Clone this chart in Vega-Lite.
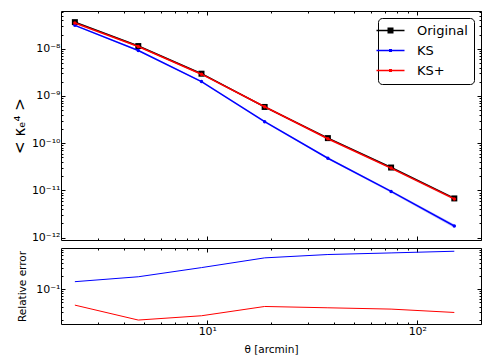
{
  "$schema": "https://vega.github.io/schema/vega-lite/v6.json",
  "background": "white",
  "padding": {"left": 11, "top": 10, "right": 5, "bottom": 5},
  "spacing": 3,
  "config": {
    "font": "DejaVu Sans",
    "view": {"stroke": "#000", "strokeWidth": 1},
    "axis": {"domain": false, "grid": false, "tickColor": "#000", "labelColor": "#000", "titleColor": "#000", "labelFont": "DejaVu Sans", "titleFont": "DejaVu Sans", "titleFontWeight": "normal", "labelFontSize": 11}
  },
  "datasets": {
    "main": [
      {"series": "Original", "theta": 2.34, "value": 3.66e-8, "lo": 3.52e-8, "hi": 3.80e-8},
      {"series": "Original", "theta": 4.69, "value": 1.14e-8, "lo": 1.10e-8, "hi": 1.18e-8},
      {"series": "Original", "theta": 9.38, "value": 2.96e-9, "lo": 2.85e-9, "hi": 3.07e-9},
      {"series": "Original", "theta": 18.75, "value": 5.85e-10, "lo": 5.60e-10, "hi": 6.10e-10},
      {"series": "Original", "theta": 37.5, "value": 1.28e-10, "lo": 1.22e-10, "hi": 1.34e-10},
      {"series": "Original", "theta": 75, "value": 3.05e-11, "lo": 2.89e-11, "hi": 3.21e-11},
      {"series": "Original", "theta": 150, "value": 6.76e-12, "lo": 6.35e-12, "hi": 7.17e-12},
      {"series": "KS", "theta": 2.34, "value": 3.13e-8, "lo": 3.04e-8, "hi": 3.22e-8},
      {"series": "KS", "theta": 4.69, "value": 9.2e-9, "lo": 8.9e-9, "hi": 9.5e-9},
      {"series": "KS", "theta": 9.38, "value": 2.02e-9, "lo": 1.94e-9, "hi": 2.10e-9},
      {"series": "KS", "theta": 18.75, "value": 2.85e-10, "lo": 2.72e-10, "hi": 2.98e-10},
      {"series": "KS", "theta": 37.5, "value": 4.8e-11, "lo": 4.55e-11, "hi": 5.05e-11},
      {"series": "KS", "theta": 75, "value": 9.5e-12, "lo": 8.9e-12, "hi": 1.01e-11},
      {"series": "KS", "theta": 150, "value": 1.76e-12, "lo": 1.6e-12, "hi": 1.93e-12},
      {"series": "KS+", "theta": 2.34, "value": 3.50e-8, "lo": 3.38e-8, "hi": 3.62e-8},
      {"series": "KS+", "theta": 4.69, "value": 1.118e-8, "lo": 1.08e-8, "hi": 1.16e-8},
      {"series": "KS+", "theta": 9.38, "value": 2.89e-9, "lo": 2.78e-9, "hi": 3.00e-9},
      {"series": "KS+", "theta": 18.75, "value": 5.9e-10, "lo": 5.62e-10, "hi": 6.18e-10},
      {"series": "KS+", "theta": 37.5, "value": 1.24e-10, "lo": 1.18e-10, "hi": 1.30e-10},
      {"series": "KS+", "theta": 75, "value": 2.97e-11, "lo": 2.81e-11, "hi": 3.13e-11},
      {"series": "KS+", "theta": 150, "value": 6.6e-12, "lo": 6.2e-12, "hi": 7.0e-12}
    ],
    "err": [
      {"series": "KS", "theta": 2.34, "err": 0.149},
      {"series": "KS", "theta": 4.69, "err": 0.193},
      {"series": "KS", "theta": 9.38, "err": 0.313},
      {"series": "KS", "theta": 18.75, "err": 0.523},
      {"series": "KS", "theta": 37.5, "err": 0.624},
      {"series": "KS", "theta": 75, "err": 0.679},
      {"series": "KS", "theta": 150, "err": 0.742},
      {"series": "KS+", "theta": 2.34, "err": 0.0433},
      {"series": "KS+", "theta": 4.69, "err": 0.0197},
      {"series": "KS+", "theta": 9.38, "err": 0.0247},
      {"series": "KS+", "theta": 18.75, "err": 0.0403},
      {"series": "KS+", "theta": 37.5, "err": 0.0376},
      {"series": "KS+", "theta": 75, "err": 0.0351},
      {"series": "KS+", "theta": 150, "err": 0.0294}
    ]
  },
  "vconcat": [
    {
      "width": 420,
      "height": 229,
      "data": {"name": "main"},
      "layer": [
        {
          "mark": {"type": "area", "opacity": 0.2},
          "encoding": {
            "x": {"field": "theta", "type": "quantitative", "scale": {"type": "log", "domain": [2.01, 201], "nice": false},
              "axis": {"orient": "bottom", "values": [2,3,4,5,6,7,8,9,10,20,30,40,50,60,70,80,90,100,200], "labels": false, "title": null,
                "tickSize": {"condition": {"test": "abs(log(datum.value)/LN10 - round(log(datum.value)/LN10)) < 1e-6", "value": -4}, "value": -2}}},
            "y": {"field": "lo", "type": "quantitative", "scale": {"type": "log", "domain": [8.9e-13, 6.3e-8], "nice": false},
              "axis": {"orient": "left", "values": [1e-12,2e-12,3e-12,4e-12,5e-12,6e-12,7e-12,8e-12,9e-12,1e-11,2e-11,3e-11,4e-11,5e-11,6e-11,7e-11,8e-11,9e-11,1e-10,2e-10,3e-10,4e-10,5e-10,6e-10,7e-10,8e-10,9e-10,1e-9,2e-9,3e-9,4e-9,5e-9,6e-9,7e-9,8e-9,9e-9,1e-8,2e-8,3e-8,4e-8,5e-8,6e-8],
                "labelExpr": "datum.value == 1e-8 ? '10⁻⁸' : datum.value == 1e-9 ? '10⁻⁹' : datum.value == 1e-10 ? '10⁻¹⁰' : datum.value == 1e-11 ? '10⁻¹¹' : datum.value == 1e-12 ? '10⁻¹²' : ''",
                "labelPadding": 5,
                "tickSize": {"condition": {"test": "abs(log(datum.value)/LN10 - round(log(datum.value)/LN10)) < 1e-6", "value": -4}, "value": -2},
                "title": "< κₑ⁴ >", "titleFontSize": 15, "titleX": -42, "titleY": 114.5, "titleAlign": "center", "titleBaseline": "middle"}},
            "y2": {"field": "hi"},
            "color": {"field": "series", "type": "nominal", "scale": {"domain": ["Original", "KS", "KS+"], "range": ["#000000", "#0000ff", "#ff0000"]}, "legend": null}
          }
        },
        {
          "transform": [{"filter": "datum.series == 'Original'"}],
          "mark": {"type": "line", "color": "#000000", "strokeWidth": 1.5, "point": {"shape": "square", "size": 36, "filled": true, "color": "#000000", "opacity": 1}},
          "encoding": {
            "x": {"field": "theta", "type": "quantitative", "axis": null},
            "y": {"field": "value", "type": "quantitative", "axis": null}
          }
        },
        {
          "transform": [{"filter": "datum.series == 'KS'"}],
          "mark": {"type": "line", "color": "#0000ff", "strokeWidth": 1.5, "point": {"shape": "circle", "size": 12, "filled": true, "color": "#0000ff", "opacity": 1}},
          "encoding": {
            "x": {"field": "theta", "type": "quantitative", "axis": null},
            "y": {"field": "value", "type": "quantitative", "axis": null}
          }
        },
        {
          "transform": [{"filter": "datum.series == 'KS+'"}],
          "mark": {"type": "line", "color": "#ff0000", "strokeWidth": 1.5, "point": {"shape": "circle", "size": 12, "filled": true, "color": "#ff0000", "opacity": 1}},
          "encoding": {
            "x": {"field": "theta", "type": "quantitative", "axis": null},
            "y": {"field": "value", "type": "quantitative", "axis": null}
          }
        },
        {
          "mark": {"type": "point", "opacity": 0},
          "encoding": {
            "x": {"field": "theta", "type": "quantitative",
              "axis": {"orient": "top", "values": [2,3,4,5,6,7,8,9,10,20,30,40,50,60,70,80,90,100,200], "labels": false, "title": null,
                "tickSize": {"condition": {"test": "abs(log(datum.value)/LN10 - round(log(datum.value)/LN10)) < 1e-6", "value": -4}, "value": -2}}},
            "y": {"field": "value", "type": "quantitative",
              "axis": {"orient": "right", "values": [1e-12,2e-12,3e-12,4e-12,5e-12,6e-12,7e-12,8e-12,9e-12,1e-11,2e-11,3e-11,4e-11,5e-11,6e-11,7e-11,8e-11,9e-11,1e-10,2e-10,3e-10,4e-10,5e-10,6e-10,7e-10,8e-10,9e-10,1e-9,2e-9,3e-9,4e-9,5e-9,6e-9,7e-9,8e-9,9e-9,1e-8,2e-8,3e-8,4e-8,5e-8,6e-8], "labels": false, "title": null,
                "tickSize": {"condition": {"test": "abs(log(datum.value)/LN10 - round(log(datum.value)/LN10)) < 1e-6", "value": -4}, "value": -2}}},
            "fill": {"field": "series", "type": "nominal", "scale": {"domain": ["Original", "KS", "KS+"], "range": ["#000000", "#0000ff", "#ff0000"]}, "title": null},
            "stroke": {"field": "series", "type": "nominal", "scale": {"domain": ["Original", "KS", "KS+"], "range": ["#000000", "#0000ff", "#ff0000"]}, "title": null},
            "shape": {"field": "series", "type": "nominal", "scale": {"domain": ["Original", "KS", "KS+"], "range": ["M-2.8,0H2.8M-0.45,-0.45H0.45V0.45H-0.45Z", "M-2.8,0H2.8M-0.15,-0.15H0.15V0.15H-0.15Z", "M-2.8,0H2.8M-0.15,-0.15H0.15V0.15H-0.15Z"]},
              "title": null,
              "legend": {"orient": "top-right", "offset": 7, "padding": 6, "fillColor": "#ffffff", "strokeColor": "#000000", "cornerRadius": 4,
                "symbolSize": 100, "symbolStrokeWidth": 1.5, "symbolOpacity": 1, "labelFontSize": 13, "labelFont": "DejaVu Sans", "labelColor": "#000", "labelOffset": 20, "rowPadding": 6}}
          }
        }
      ],
      "resolve": {"axis": {"x": "independent", "y": "independent"}}
    },
    {
      "width": 420,
      "height": 76,
      "data": {"name": "err"},
      "layer": [
        {
          "mark": {"type": "line", "strokeWidth": 1},
          "encoding": {
            "x": {"field": "theta", "type": "quantitative", "scale": {"type": "log", "domain": [2.01, 201], "nice": false},
              "axis": {"orient": "bottom", "values": [2,3,4,5,6,7,8,9,10,20,30,40,50,60,70,80,90,100,200],
                "labelExpr": "datum.value == 10 ? '10¹' : datum.value == 100 ? '10²' : ''", "labelPadding": 5,
                "tickSize": {"condition": {"test": "abs(log(datum.value)/LN10 - round(log(datum.value)/LN10)) < 1e-6", "value": -4}, "value": -2},
                "title": "θ [arcmin]", "titleFontSize": 10.5, "titleX": 210, "titleY": 25, "titleAlign": "center", "titleBaseline": "middle"}},
            "y": {"field": "err", "type": "quantitative", "scale": {"type": "log", "domain": [0.016, 0.88], "nice": false},
              "axis": {"orient": "left", "values": [0.02,0.03,0.04,0.05,0.06,0.07,0.08,0.09,0.1,0.2,0.3,0.4,0.5,0.6,0.7,0.8],
                "labelExpr": "datum.value == 0.1 ? '10⁻¹' : ''", "labelPadding": 5,
                "tickSize": {"condition": {"test": "abs(log(datum.value)/LN10 - round(log(datum.value)/LN10)) < 1e-6", "value": -4}, "value": -2},
                "title": "Relative error", "titleFontSize": 10.5, "titleX": -39, "titleY": 38, "titleAlign": "center", "titleBaseline": "middle"}},
            "color": {"field": "series", "type": "nominal", "scale": {"domain": ["KS", "KS+"], "range": ["#0000ff", "#ff0000"]}, "legend": null}
          }
        },
        {
          "mark": {"type": "point", "opacity": 0},
          "encoding": {
            "x": {"field": "theta", "type": "quantitative",
              "axis": {"orient": "top", "values": [2,3,4,5,6,7,8,9,10,20,30,40,50,60,70,80,90,100,200], "labels": false, "title": null,
                "tickSize": {"condition": {"test": "abs(log(datum.value)/LN10 - round(log(datum.value)/LN10)) < 1e-6", "value": -4}, "value": -2}}},
            "y": {"field": "err", "type": "quantitative",
              "axis": {"orient": "right", "values": [0.02,0.03,0.04,0.05,0.06,0.07,0.08,0.09,0.1,0.2,0.3,0.4,0.5,0.6,0.7,0.8], "labels": false, "title": null,
                "tickSize": {"condition": {"test": "abs(log(datum.value)/LN10 - round(log(datum.value)/LN10)) < 1e-6", "value": -4}, "value": -2}}}
          }
        }
      ],
      "resolve": {"axis": {"x": "independent", "y": "independent"}}
    }
  ]
}
